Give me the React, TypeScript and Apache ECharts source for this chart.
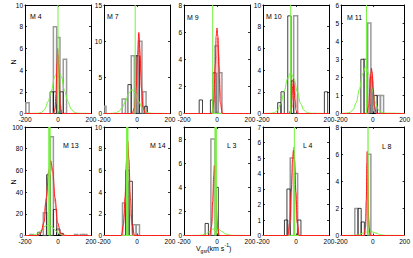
import React, { useEffect, useRef } from 'react';
import * as echarts from 'echarts';

// ---------- data ----------
const PANEL_NAMES = ['M 4', 'M 7', 'M 9', 'M 10', 'M 11', 'M 13', 'M 14', 'L 3', 'L 4', 'L 8'];
const X_TICKS = [-200, 0, 200];
const Y_MAX = [10, 15, 8, 10, 6, 100, 10, 9, 7, 8];
const Y_STEP = [2, 5, 2, 2, 1, 20, 2, 2, 1, 2];
const V_SYS = [0, -11, -26, -32, -40, -52, -59, -8, -10, -30];

// histogram bins: [left, right, count]
const GRAY_BINS = [
  [[-195, -175, 1], [-28, -8, 8], [-8, 12, 7], [32, 52, 5]],
  [[-200, -188, 1], [-90, -70, 2], [-35, -15, 8], [-15, 5, 8], [10, 30, 10], [35, 55, 3]],
  [[-12, 8, 5], [8, 30, 3]],
  [[-14, 10, 9]],
  [[-55, -35, 3], [-32, -12, 5], [28, 48, 1], [48, 68, 1]],
  [[-170, -150, 1], [-89, -69, 21], [-48, -28, 91], [100, 120, 1], [135, 155, 1], [155, 175, 1]],
  [[-88, -68, 3], [-25, -5, 1], [-5, 15, 1]],
  [[-37, -12, 8]],
  [[-35, -10, 5], [-10, 10, 4]],
  [[-113, -93, 2], [-32, -12, 6]],
];
const BLACK_BINS = [
  [[-48, -28, 2], [-28, -8, 2], [12, 32, 2]],
  [[-55, -35, 4], [-5, 15, 8], [45, 63, 1]],
  [[-108, -88, 1], [-40, -25, 1], [-25, -5, 3]],
  [[-111, -91, 1], [-91, -71, 2], [-50, -30, 9], [-30, -14, 3], [172, 192, 2]],
  [[-75, -55, 3], [-18, -4, 2], [8, 28, 1]],
  [[-123, -107, 3], [-69, -48, 56], [-28, -8, 24], [-8, 12, 6], [12, 32, 2]],
  [[-68, -48, 6], [-48, -28, 5]],
  [[-72, -52, 1], [-4, 8, 4]],
  [[-70, -50, 1], [-55, -35, 3], [10, 30, 1]],
  [[-93, -73, 2], [-73, -53, 1]],
];

// fitted curves: [v, N]
const RED_FIT = [
  [[-200, 0], [-30, 0], [-18, 0.4], [-12, 1.8], [-6, 4.6], [-2, 6], [3, 4.6], [9, 1.8], [15, 0.4], [26, 0], [200, 0]],
  [[-200, 0], [-30, 0], [-15, 0.8], [-5, 3.5], [3, 8], [11, 11.2], [19, 8], [27, 3.5], [37, 0.8], [52, 0], [200, 0]],
  [[-200, 0], [-32, 0], [-20, 0.8], [-11, 3.5], [-5, 5.7], [0, 6.3], [5, 5.7], [11, 3.5], [20, 0.8], [32, 0], [200, 0]],
  [[-200, 0], [-42, 0], [-32, 0.3], [-25, 1.3], [-20, 2.5], [-16, 3.2], [-12, 2.5], [-7, 1.3], [0, 0.3], [10, 0], [200, 0]],
  [[-200, 0], [-38, 0], [-26, 0.4], [-18, 1.4], [-12, 2.2], [-8, 2.5], [-4, 2.2], [2, 1.4], [10, 0.4], [22, 0], [200, 0]],
  [[-200, 0], [-130, 0], [-105, 2], [-85, 12], [-70, 35], [-56, 60], [-44, 69], [-32, 60], [-18, 35], [-3, 12], [17, 2], [45, 0], [200, 0]],
  [[-200, 0], [-95, 0], [-82, 1], [-72, 3.5], [-63, 7], [-56, 8.7], [-49, 7], [-40, 3.5], [-30, 1], [-15, 0], [200, 0]],
  [[-200, 0], [-45, 0], [-34, 0.7], [-26, 2.8], [-20, 5], [-16, 5.8], [-12, 5], [-6, 2.8], [2, 0.7], [14, 0], [200, 0]],
  [[-200, 0], [-50, 0], [-38, 0.8], [-29, 2.8], [-21, 4.9], [-15, 5.5], [-9, 4.9], [-1, 2.8], [8, 0.8], [20, 0], [200, 0]],
  [[-200, 0], [-55, 0], [-46, 0.6], [-41, 2.6], [-37, 5.4], [-35, 6.2], [-33, 5.4], [-29, 2.6], [-24, 0.6], [-15, 0], [200, 0]],
];
const PINK_FIT = [
  [[-200, 0], [-25, 0], [-12, 0.9], [-5, 3.8], [1, 5.4], [7, 3.8], [14, 0.9], [26, 0], [200, 0]],
  [[-200, 0], [-20, 0], [-8, 1.2], [3, 5.5], [14, 10.3], [24, 5.5], [35, 1.2], [48, 0], [200, 0]],
  [[-200, 0], [-25, 0], [-12, 1.3], [-2, 4.3], [5, 5.6], [12, 4.3], [22, 1.3], [35, 0], [200, 0]],
  [[-200, 0], [-35, 0], [-22, 0.6], [-14, 1.9], [-9, 2.6], [-4, 1.9], [4, 0.6], [15, 0], [200, 0]],
  [[-200, 0], [-30, 0], [-18, 0.5], [-9, 1.8], [-4, 2.3], [2, 1.8], [10, 0.5], [22, 0], [200, 0]],
  [[-200, 0], [-120, 0], [-95, 5], [-75, 30], [-58, 58], [-46, 66], [-34, 58], [-18, 30], [0, 5], [25, 0], [200, 0]],
  [[-200, 0], [-90, 0], [-76, 2], [-66, 6], [-58, 8.3], [-50, 6], [-40, 2], [-26, 0], [200, 0]],
  [[-200, 0], [-40, 0], [-28, 1.2], [-20, 4], [-14, 5.4], [-8, 4], [0, 1.2], [12, 0], [200, 0]],
  [[-200, 0], [-45, 0], [-32, 1], [-22, 4], [-14, 5.7], [-6, 4], [4, 1], [16, 0], [200, 0]],
  [[-200, 0], [-50, 0], [-42, 1.2], [-37, 4.5], [-34, 5.9], [-31, 4.5], [-26, 1.2], [-18, 0], [200, 0]],
];
const GREEN_FIT = [
  [[-200, 0], [-120, 0.02], [-100, 0.1], [-80, 0.4], [-60, 1.1], [-40, 2.1], [-20, 3.4], [0, 4], [20, 3.4], [40, 2.1], [60, 1.1], [80, 0.4], [100, 0.1], [120, 0.02], [200, 0]],
  [[-200, 0], [-150, 0.02], [-130, 0.08], [-110, 0.3], [-90, 0.8], [-70, 1.7], [-50, 2.8], [-30, 3.3], [-10, 2.8], [10, 1.7], [30, 0.8], [50, 0.3], [70, 0.08], [90, 0.02], [200, 0]],
  [[-200, 0], [200, 0]],
  [[-200, 0], [-150, 0.02], [-130, 0.08], [-112, 0.3], [-92, 0.9], [-72, 2], [-52, 3.2], [-32, 3.8], [-12, 3.2], [8, 2], [28, 0.9], [48, 0.3], [68, 0.08], [90, 0.02], [200, 0]],
  [[-200, 0], [-164, 0.02], [-144, 0.06], [-124, 0.2], [-104, 0.6], [-84, 1.35], [-64, 2.2], [-44, 2.6], [-24, 2.2], [-4, 1.35], [16, 0.6], [36, 0.2], [56, 0.06], [76, 0.02], [200, 0]],
  [[-200, 0], [-180, 0.05], [-160, 0.25], [-139, 0.7], [-119, 2.3], [-99, 5.2], [-79, 8.5], [-59, 10], [-39, 8.5], [-19, 5.2], [1, 2.3], [21, 0.7], [41, 0.25], [61, 0.05], [200, 0]],
  [[-200, 0], [200, 0]],
  [[-200, 0], [-108, 0.01], [-88, 0.04], [-68, 0.14], [-48, 0.31], [-28, 0.51], [-8, 0.6], [12, 0.51], [32, 0.31], [52, 0.14], [72, 0.04], [92, 0.01], [200, 0]],
  [[-200, 0], [200, 0]],
  [[-200, 0], [-120, 0.01], [-90, 0.05], [-60, 0.18], [-40, 0.26], [-20, 0.3], [0, 0.26], [20, 0.18], [50, 0.05], [80, 0.01], [200, 0]],
];

// ---------- layout / style ----------
const FONT = 'Liberation Sans, Arial, sans-serif';
const LEFTS = [25, 104, 184, 263, 341];
const TOPS = [5, 127];
const PW = 66;
const PH = 108.5;
const NAME_POS = [[30, 16], [107, 16], [187, 17], [266, 16], [347, 17], [63, 145], [150, 145], [227, 145], [303, 145], [382, 146]];
const SYS_WIDTH = [1, 1, 1, 1, 1, 2.4, 2.4, 2.4, 1, 1.2];
const GREEN = '#72f23a';
const RED = '#ff1a1a';
const PINK = 'rgba(255,110,110,0.75)';

function binSeries(bins: number[][], xi: number, yi: number, stroke: string, lw: number, z: number) {
  return {
    type: 'custom',
    xAxisIndex: xi,
    yAxisIndex: yi,
    clip: true,
    z,
    silent: true,
    encode: { x: [0, 1], y: 2 },
    data: bins,
    renderItem: (_params: any, api: any) => {
      const p0 = api.coord([api.value(0), api.value(2)]);
      const p1 = api.coord([api.value(1), 0]);
      return {
        type: 'rect',
        shape: { x: p0[0], y: p0[1], width: p1[0] - p0[0], height: p1[1] - p0[1] },
        style: { fill: 'none', stroke, lineWidth: lw },
      };
    },
  };
}

function curve(data: number[][], xi: number, yi: number, color: string, width: number, z: number) {
  return {
    type: 'line',
    xAxisIndex: xi,
    yAxisIndex: yi,
    data,
    smooth: 0.35,
    smoothMonotone: 'x',
    symbol: 'none',
    silent: true,
    z,
    lineStyle: { color, width },
  };
}

export default function App() {
  const ref = useRef<HTMLDivElement>(null);
  useEffect(() => {
    const chart = echarts.init(ref.current!, null, { renderer: 'svg' });
    const grid: any[] = [];
    const xAxis: any[] = [];
    const yAxis: any[] = [];
    const series: any[] = [];
    const graphic: any[] = [];
    const axLine = { show: true, onZero: false, lineStyle: { color: '#000', width: 1 } };
    const tick = { show: true, inside: true, length: 2, lineStyle: { color: '#000', width: 0.8 } };
    const lbl = { fontSize: 6.5, color: '#000', fontFamily: FONT };

    PANEL_NAMES.forEach((name, i) => {
      const row = Math.floor(i / 5);
      const col = i % 5;
      grid.push({ left: LEFTS[col], top: TOPS[row], width: PW, height: PH, show: false });
      const base = { gridIndex: i, type: 'value', min: X_TICKS[0], max: X_TICKS[X_TICKS.length - 1], interval: X_TICKS[1] - X_TICKS[0], splitLine: { show: false } };
      xAxis.push({ ...base, position: 'bottom', axisLine: axLine, axisTick: tick, axisLabel: { ...lbl, margin: 2, showMinLabel: true, showMaxLabel: true } });
      xAxis.push({ ...base, position: 'top', axisLine: axLine, axisTick: tick, axisLabel: { show: false } });
      const ybase = { gridIndex: i, type: 'value', min: 0, max: Y_MAX[i], interval: Y_STEP[i], splitLine: { show: false } };
      yAxis.push({
        ...ybase, position: 'left', axisLine: axLine, axisTick: tick,
        axisLabel: { ...lbl, margin: 2, formatter: (v: number) => (Math.abs(v % Y_STEP[i]) < 1e-9 ? String(v) : '') },
      });
      yAxis.push({ ...ybase, position: 'right', axisLine: axLine, axisTick: tick, axisLabel: { show: false } });
      const xi = 2 * i;
      const yi = 2 * i;
      series.push(binSeries(GRAY_BINS[i], xi, yi, '#9a9a9a', 1.5, 1));
      series.push(binSeries(BLACK_BINS[i], xi, yi, '#111', 0.8, 2));
      series.push(curve(GREEN_FIT[i], xi, yi, GREEN, 1, 3));
      series.push(curve(PINK_FIT[i], xi, yi, PINK, 1, 4));
      series.push(curve(RED_FIT[i], xi, yi, RED, 1, 5));
      series.push({
        type: 'line', xAxisIndex: xi, yAxisIndex: yi, symbol: 'none', silent: true, z: 6,
        data: [[V_SYS[i], 0], [V_SYS[i], Y_MAX[i]]],
        lineStyle: { color: GREEN, width: SYS_WIDTH[i] },
      });
      graphic.push({
        type: 'text', x: NAME_POS[i][0], y: NAME_POS[i][1],
        style: { text: name, fontSize: 7, fontFamily: FONT, fill: '#000', verticalAlign: 'middle', align: 'left' },
      });
    });

    // y-axis titles
    [62, 182].forEach((y) => {
      graphic.push({
        type: 'text', x: 13, y, rotation: Math.PI / 2,
        style: { text: 'N', fontSize: 7, fontFamily: FONT, fill: '#000', align: 'center', verticalAlign: 'middle' },
      });
    });
    // x-axis title: V_gsr (km s^-1)
    const t = (text: string, x: number, y: number, size: number) => ({
      type: 'text', x, y,
      style: { text, fontSize: size, fontFamily: FONT, fill: '#000', align: 'left', verticalAlign: 'middle' },
    });
    graphic.push(t('V', 196, 248, 7));
    graphic.push(t('gsr', 200.6, 251, 5));
    graphic.push(t('(km s', 207.2, 248, 7));
    graphic.push(t('-1', 224.6, 244.6, 5));
    graphic.push(t(')', 229, 248, 7));

    chart.setOption({ animation: false, backgroundColor: '#fff', grid, xAxis, yAxis, series, graphic });
    return () => chart.dispose();
  }, []);
  return <div ref={ref} style={{ position: 'fixed', left: 0, top: 0, width: 413, height: 258 }} />;
}
